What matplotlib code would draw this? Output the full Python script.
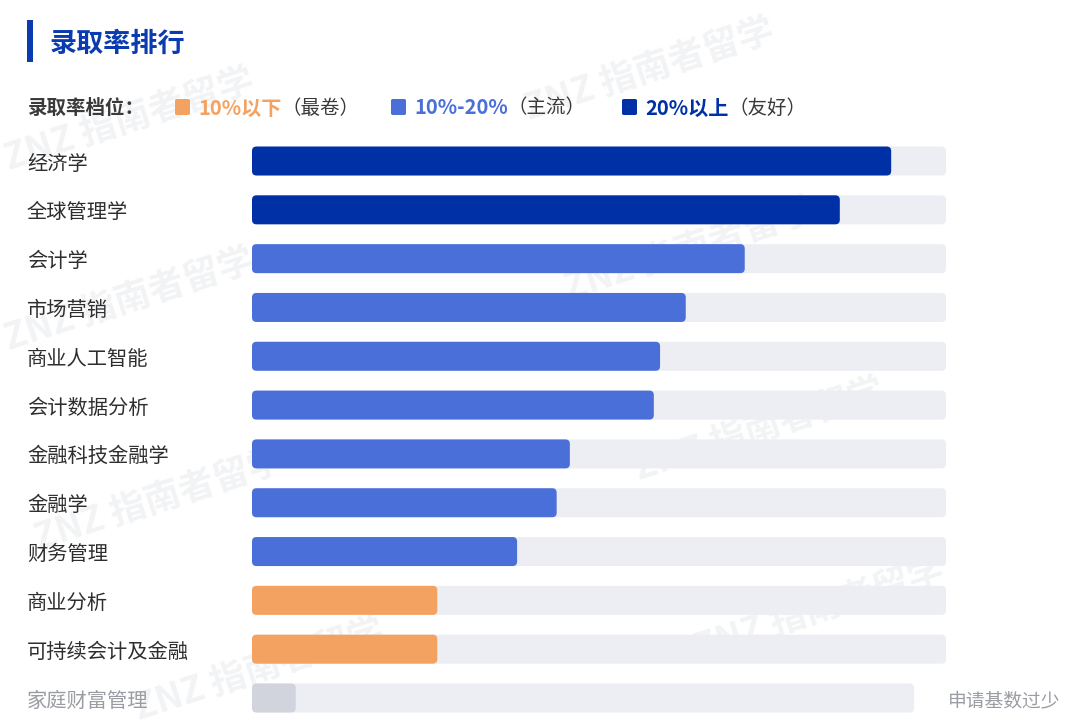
import matplotlib
matplotlib.use("Agg")
import matplotlib.pyplot as plt
from matplotlib.patches import FancyBboxPatch, Rectangle
from matplotlib.transforms import blended_transform_factory

plt.rcParams['font.family'] = ['Noto Sans CJK SC', 'DejaVu Sans']

# data (bar length as share of the full track, %)
majors = ['经济学', '全球管理学', '会计学', '市场营销', '商业人工智能', '会计数据分析',
          '金融科技金融学', '金融学', '财务管理', '商业分析', '可持续会计及金融', '家庭财富管理']
values = [92.1, 84.7, 71.0, 62.5, 58.8, 57.9, 45.8, 43.9, 38.2, 26.7, 26.7, 6.3]
tiers = ['high', 'high', 'mid', 'mid', 'mid', 'mid', 'mid', 'mid', 'mid', 'low', 'low', 'na']
track_len = [100] * 11 + [95.4]
tier_names = ['10%以下', '10%-20%', '20%以上']
tier_notes = ['（最卷）', '（主流）', '（友好）']

colors = {'low': '#F4A261', 'mid': '#4A6FD9', 'high': '#0030A6', 'na': '#D1D4DC'}
track_color = '#EDEEF3'

fig = plt.figure(figsize=(10.8, 7.26), dpi=100)
W, H = 1080, 726
ax = fig.add_axes([252 / W, 1 - 722.4 / H, 694 / W, 585.8 / H])
ax.set_xlim(0, 100)
ax.set_ylim(len(majors) - 0.5, -0.5)
ax.axis('off')

# rounding: px per unit in x vs y
px_x = 6.94
px_y = 48.8
aspect = px_x / px_y
r = 4.5 / px_x
bh = 29 / px_y

for i, (m, v, t, tl) in enumerate(zip(majors, values, tiers, track_len)):
    ax.add_patch(FancyBboxPatch((r, i - bh / 2 + r * aspect), tl - 2 * r, bh - 2 * r * aspect,
                                boxstyle=f"round,pad={r},rounding_size={r}",
                                mutation_aspect=aspect, fc=track_color, ec='none', zorder=1))
    ax.add_patch(FancyBboxPatch((r, i - bh / 2 + r * aspect), v - 2 * r, bh - 2 * r * aspect,
                                boxstyle=f"round,pad={r},rounding_size={r}",
                                mutation_aspect=aspect, fc=colors[t], ec='none', zorder=2))

# labels sit a touch lower than the bar centre to look centred
dy = 3 / px_y
lab_tr = blended_transform_factory(fig.transFigure, ax.transData)
for i, m in enumerate(majors):
    c = '#9A9CA3' if tiers[i] == 'na' else '#2E2E2E'
    ax.text(27 / W, i + dy, m, transform=lab_tr, ha='left', va='center', fontsize=14.6, color=c)
ax.text(948 / W, len(majors) - 1 + dy, '申请基数过少', transform=lab_tr, ha='left', va='center',
        fontsize=13.5, color='#9A9CA3')

# title
fig.patches.append(Rectangle((27 / W, 1 - 62 / H), 6 / W, 42 / H, transform=fig.transFigure,
                             fc='#0A3BB0', ec='none'))
fig.text(50 / W, 1 - 44 / H, '录取率排行', ha='left', va='center', fontsize=19.5,
         fontweight='bold', color='#0A3BB0')

# legend row
ly = 1 - 108 / H
fig.text(28 / W, ly, '录取率档位：', ha='left', va='center', fontsize=14,
         fontweight='bold', color='#3A3A3A')
leg_x = [175, 391, 622]
leg_cols = [colors['low'], colors['mid'], colors['high']]
for x0, name, note, c in zip(leg_x, tier_names, tier_notes, leg_cols):
    fig.patches.append(FancyBboxPatch((x0 / W, ly - 7 / H), 15 / W, 16 / H,
                                      boxstyle="round,pad=0,rounding_size=0.002",
                                      transform=fig.transFigure, fc=c, ec='none'))
    t = fig.text((x0 + 23) / W, ly, name, ha='left', va='center', fontsize=14.5,
                 fontweight='bold', color=c)
    fig.canvas.draw()
    bb = t.get_window_extent()
    fig.text(bb.x1 / W, ly, note, ha='left', va='center', fontsize=14, color='#3A3A3A')

# faint watermarks behind everything
wm = [(520, 70), (0, 120), (560, 250), (0, 300), (630, 430), (30, 500), (690, 610), (130, 670)]
for x, y in wm:
    fig.text(x / W, 1 - y / H, 'ZNZ 指南者留学', ha='left', va='center', fontsize=26,
             fontweight='bold', color='#F2F3F5', rotation=18, zorder=-5)

fig.savefig('out.png', dpi=100, facecolor='white')
